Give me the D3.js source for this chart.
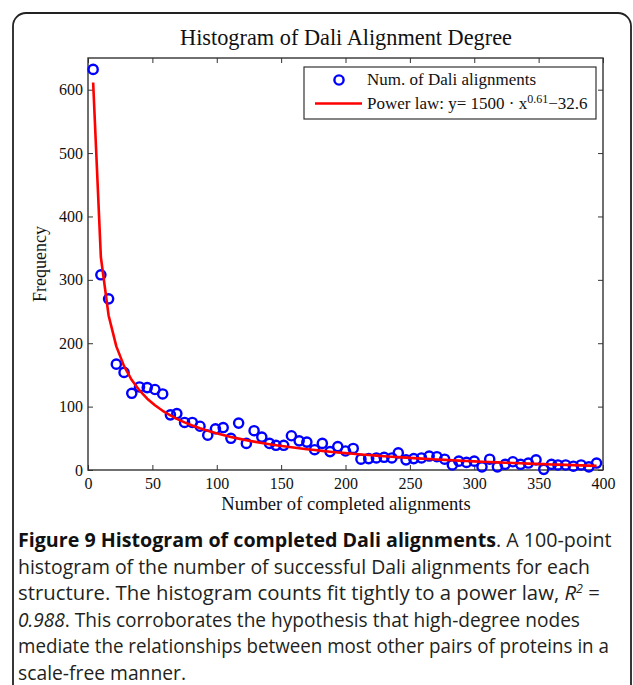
<!DOCTYPE html>
<html>
<head>
<meta charset="utf-8">
<script src="https://cdn.jsdelivr.net/npm/d3@7"></script>
<style>
  html, body { margin: 0; padding: 0; background: #fff; }
  svg { display: block; }
</style>
</head>
<body>
<svg id="fig" width="633" height="685"></svg>
<script>
// Histogram bins (number of completed alignments) and their counts
const binCenters = [4, 10, 16, 22, 28, 34, 40, 46, 52, 58, 64, 69, 75, 81, 87, 93, 99, 105, 111, 117,
  123, 129, 135, 141, 146, 152, 158, 164, 170, 176, 182, 188, 194, 200, 206, 212, 218, 224, 230, 236,
  241, 247, 253, 259, 265, 271, 277, 283, 288, 294, 300, 306, 312, 318, 324, 330, 336, 342, 348, 354,
  360, 365, 371, 377, 383, 389, 395];
const counts = [632, 308, 270, 167, 154, 121, 131, 130, 127, 120, 87, 89, 75, 75, 69, 55, 65, 67, 50, 74,
  42, 62, 52, 42, 39, 39, 54, 46, 44, 32, 42, 29, 37, 30, 34, 17, 18, 19, 20, 19,
  27, 16, 18, 19, 22, 21, 17, 8, 14, 12, 14, 5, 17, 5, 9, 13, 9, 11, 16, 1,
  9, 8, 8, 6, 8, 5, 11];

// Fitted power law: y = 1500 * x^-0.61 - 32.6
const fitA = 1500, fitB = 0.61, fitC = 32.6;

const xTicks = [0, 50, 100, 150, 200, 250, 300, 350, 400];
const yTicks = [0, 100, 200, 300, 400, 500, 600];

const svg = d3.select("#fig");
const serif = "'Liberation Serif', 'Times New Roman', serif";
const sans = "'Open Sans', 'Noto Sans', sans-serif";

// rounded figure frame
svg.append("rect")
  .attr("x", 13).attr("y", 13).attr("width", 618).attr("height", 720)
  .attr("rx", 13).attr("fill", "none").attr("stroke", "#222").attr("stroke-width", 1.8);

const plot = { left: 88, right: 603, top: 58, bottom: 470 };
const x = d3.scaleLinear().domain([0, 400]).range([plot.left, plot.right]);
const y = d3.scaleLinear().domain([0, 650]).range([plot.bottom, plot.top]);

// Axes with inward ticks on all four sides
const tickLen = 5;
function styleAxis(g) {
  g.select(".domain").remove();
  g.selectAll(".tick line").attr("stroke", "#333").attr("stroke-width", 1);
  g.selectAll(".tick text").attr("font-family", serif).attr("font-size", 16).attr("fill", "#111");
}
svg.append("g").attr("transform", `translate(0,${plot.bottom})`)
  .call(d3.axisBottom(x).tickValues(xTicks).tickSizeInner(-tickLen).tickSizeOuter(0).tickPadding(8))
  .call(styleAxis);
svg.append("g").attr("transform", `translate(0,${plot.top})`)
  .call(d3.axisTop(x).tickValues(xTicks).tickSizeInner(-tickLen).tickSizeOuter(0).tickFormat(""))
  .call(styleAxis);
svg.append("g").attr("transform", `translate(${plot.left},0)`)
  .call(d3.axisLeft(y).tickValues(yTicks).tickSizeInner(-tickLen).tickSizeOuter(0).tickPadding(5))
  .call(styleAxis);
svg.append("g").attr("transform", `translate(${plot.right},0)`)
  .call(d3.axisRight(y).tickValues(yTicks).tickSizeInner(-tickLen).tickSizeOuter(0).tickFormat(""))
  .call(styleAxis);

// plot box
svg.append("rect")
  .attr("x", plot.left).attr("y", plot.top)
  .attr("width", plot.right - plot.left).attr("height", plot.bottom - plot.top)
  .attr("fill", "none").attr("stroke", "#333").attr("stroke-width", 1.4);

// data markers
svg.append("g").selectAll("circle")
  .data(binCenters.map((b, i) => [b, counts[i]]))
  .join("circle")
  .attr("cx", d => x(d[0])).attr("cy", d => y(d[1]))
  .attr("r", 4.6).attr("fill", "none").attr("stroke", "#0000ff").attr("stroke-width", 2.4);

// power-law fit evaluated at the bin centers
const fitLine = d3.line().x(d => x(d)).y(d => y(fitA * Math.pow(d, -fitB) - fitC));
svg.append("path").attr("d", fitLine(binCenters))
  .attr("fill", "none").attr("stroke", "#ff0000").attr("stroke-width", 2.6).attr("stroke-linejoin", "round");

// title and axis labels
svg.append("text").attr("x", 346).attr("y", 45).attr("text-anchor", "middle")
  .attr("font-family", serif).attr("font-size", 22.3).attr("fill", "#111")
  .text("Histogram of Dali Alignment Degree");
svg.append("text").attr("x", 346).attr("y", 510).attr("text-anchor", "middle")
  .attr("font-family", serif).attr("font-size", 18.6).attr("fill", "#111")
  .text("Number of completed alignments");
svg.append("text").attr("transform", "translate(46,264) rotate(-90)").attr("text-anchor", "middle")
  .attr("font-family", serif).attr("font-size", 18).attr("fill", "#111")
  .text("Frequency");

// legend
const lg = svg.append("g");
lg.append("rect").attr("x", 304).attr("y", 67).attr("width", 292).attr("height", 52)
  .attr("fill", "#fff").attr("stroke", "#333").attr("stroke-width", 1.2);
lg.append("circle").attr("cx", 339).attr("cy", 80).attr("r", 4.6)
  .attr("fill", "none").attr("stroke", "#0000ff").attr("stroke-width", 2.4);
lg.append("line").attr("x1", 315).attr("x2", 362).attr("y1", 103.5).attr("y2", 103.5)
  .attr("stroke", "#ff0000").attr("stroke-width", 2.6);
lg.append("text").attr("x", 367).attr("y", 85)
  .attr("font-family", serif).attr("font-size", 17).attr("fill", "#111")
  .text("Num. of Dali alignments");
const pl = lg.append("text").attr("x", 367).attr("y", 109)
  .attr("font-family", serif).attr("font-size", 17).attr("fill", "#111");
pl.append("tspan").text("Power law: y= 1500 \u00b7 x");
pl.append("tspan").attr("dy", -6).attr("font-size", 12).text("0.61");
pl.append("tspan").attr("dy", 6).text("\u221232.6");

// caption: each line is fitted to its measure (w = line width in px)
const capLines = [
  { w: 594, parts: [{ t: "Figure 9 Histogram of completed Dali alignments", b: true }, { t: ". A 100-point" }] },
  { w: 572, parts: [{ t: "histogram of the number of successful Dali alignments for each" }] },
  { w: 582, parts: [{ t: "structure. The histogram counts fit tightly to a power law, " }, { t: "R", i: true },
     { t: "2", i: true, sup: true }, { t: " =", after: true }] },
  { w: 562, parts: [{ t: "0.988", i: true }, { t: ". This corroborates the hypothesis that high-degree nodes" }] },
  { w: 591, parts: [{ t: "mediate the relationships between most other pairs of proteins in a" }] },
  { w: 168, parts: [{ t: "scale-free manner." }] }
];
const capLeft = 18, capTop = 547, capStep = 26.6;
capLines.forEach((line, li) => {
  const g = svg.append("g");
  const t = g.append("text").attr("x", 0).attr("y", 0)
    .attr("font-family", sans).attr("font-size", 19.6).attr("fill", "#231f20");
  line.parts.forEach(p => {
    const s = t.append("tspan").text(p.t);
    if (p.b) s.attr("font-weight", "bold").attr("fill", "#111");
    if (p.i) s.attr("font-style", "italic");
    if (p.sup) s.attr("dy", -7).attr("font-size", 12);
    if (p.after) s.attr("dy", 7);
  });
  const natural = t.node().getBBox().width;
  const k = natural > 0 ? line.w / natural : 1;
  g.attr("transform", `translate(${capLeft},${capTop + li * capStep}) scale(${k},1)`);
});
</script>
</body>
</html>
